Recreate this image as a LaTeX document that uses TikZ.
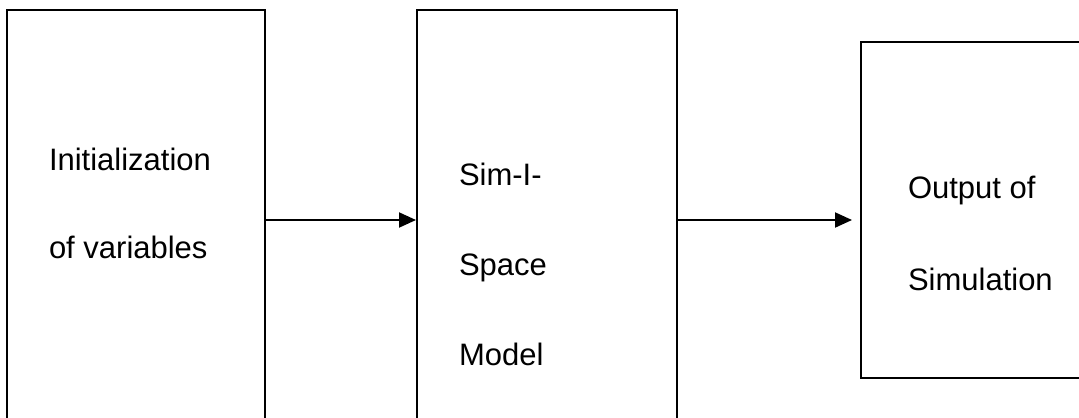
\documentclass[tikz,border=0pt]{standalone}
\usepackage{fontspec}
\setmainfont{Liberation Sans}
\usetikzlibrary{arrows.meta}
\tikzset{%
  >={Triangle[width=7.5pt,length=8.5pt]},
  % Specifications for style of nodes:
      block/.style = {rectangle, draw=black, line width=1pt, inner sep=0pt},
  blocktext/.style = {anchor=north west, inner sep=0pt, align=left,
                      font=\fontsize{15.5}{45}\selectfont},
}

\begin{document}
\begin{tikzpicture}[x=0.5pt, y=-0.5pt, line width=1pt]
  \useasboundingbox (0,0) rectangle (1079,417);

  % Specification of blocks (position, size)
  \node (init)   [block, minimum width=129pt, minimum height=210pt] at (136,220) {};
  \node (model)  [block, minimum width=130pt, minimum height=210pt] at (547,220) {};
  \node (output) [block, minimum width=117pt, minimum height=168pt] at (978,210) {};

  % Text inside the blocks
  \node (initText)   [blocktext, font=\fontsize{15.5}{44}\selectfont] at (48,147)
                     {Initialization\\of variables};
  \node (modelText)  [blocktext] at (458,162) {Sim-I-\\Space\\Model};
  \node (outputText) [blocktext, font=\fontsize{15.5}{46}\selectfont] at (907,175)
                     {Output of\\Simulation};

  % Lines between blocks
  \draw[->]                (init) -- (model);
  \draw[->, shorten >=4pt] (model.east) -- (model.east -| output.west);
\end{tikzpicture}
\end{document}
